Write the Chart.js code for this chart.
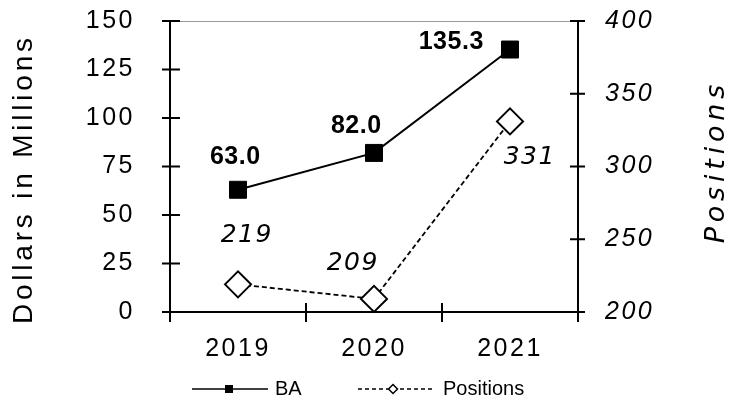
<!DOCTYPE html>
<html>
<head>
<meta charset="utf-8">
<script src="https://cdn.jsdelivr.net/npm/chart.js@4.4.0/dist/chart.umd.min.js"></script>
<style>
  html, body { margin: 0; padding: 0; background: #fff; }
  #wrap { width: 741px; height: 400px; }
</style>
</head>
<body>
<div id="wrap"><canvas id="chart"></canvas></div>
<script>
const years = ['2019', '2020', '2021'];
const baValues = [63.0, 82.0, 135.3];
const positionValues = [219, 209, 331];
const dollarTicks = [0, 25, 50, 75, 100, 125, 150];
const positionTicks = [200, 250, 300, 350, 400];

// label offsets from each point (px)
const baLabelOffsets = [[-3, -33], [-18, -27], [-59, -7]];
const posLabelOffsets = [[8, -49], [-22, -35], [19, 36]];

const ARIAL = '"Liberation Sans", Arial, sans-serif';
const DEJAVU = '"DejaVu Sans", Verdana, sans-serif';

function drawText(ctx, txt, x, y, font, spacing, align) {
  ctx.save();
  ctx.font = font;
  ctx.letterSpacing = spacing + 'px';
  ctx.fillStyle = '#000';
  ctx.textBaseline = 'middle';
  // letterSpacing adds space after last char too, compensate when centering
  let w = ctx.measureText(txt).width;
  ctx.textAlign = 'left';
  let x0 = x;
  if (align === 'center') x0 = x - (w - spacing) / 2;
  ctx.fillText(txt, x0, y);
  ctx.restore();
}

const spacingPlugin = {
  id: 'spacing',
  beforeDraw(chart) {
    chart.ctx.letterSpacing = '2.5px';
  }
};

const ticksPlugin = {
  id: 'crossTicks',
  beforeDatasetsDraw(chart) {
    const {ctx, chartArea, scales} = chart;
    ctx.save();
    ctx.letterSpacing = '0px';
    ctx.strokeStyle = '#999';
    ctx.lineWidth = 1;
    ctx.beginPath();
    ctx.moveTo(chartArea.left, chartArea.top + 0.5);
    ctx.lineTo(chartArea.right, chartArea.top + 0.5);
    ctx.stroke();
    ctx.strokeStyle = '#000';
    ctx.lineWidth = 2;
    ctx.beginPath();
    scales.y.ticks.forEach((t, i) => {
      const y = scales.y.getPixelForTick(i);
      ctx.moveTo(chartArea.left - 8, y);
      ctx.lineTo(chartArea.left + 10, y);
    });
    scales.y1.ticks.forEach((t, i) => {
      const y = scales.y1.getPixelForTick(i);
      ctx.moveTo(chartArea.right - 8, y);
      ctx.lineTo(chartArea.right + 7, y);
    });
    for (let i = 0; i <= years.length; i++) {
      const x = scales.x.getPixelForValue(i - 0.5);
      ctx.moveTo(x, chartArea.bottom - 9);
      ctx.lineTo(x, chartArea.bottom + 10);
    }
    ctx.stroke();
    ctx.restore();
  }
};

const labelsPlugin = {
  id: 'pointLabels',
  afterDatasetsDraw(chart) {
    const ctx = chart.ctx;
    chart.getDatasetMeta(0).data.forEach((pt, j) => {
      const [dx, dy] = baLabelOffsets[j];
      drawText(ctx, baValues[j].toFixed(1), pt.x + dx, pt.y + dy, 'bold 25px ' + ARIAL, 0.5, 'center');
    });
    chart.getDatasetMeta(1).data.forEach((pt, j) => {
      const [dx, dy] = posLabelOffsets[j];
      drawText(ctx, String(positionValues[j]), pt.x + dx, pt.y + dy, 'italic 25px ' + DEJAVU, 1.5, 'center');
    });
  },
  afterDraw(chart) {
    const ctx = chart.ctx;
    // axis titles
    ctx.save();
    ctx.translate(24, 181);
    ctx.rotate(-Math.PI / 2);
    drawText(ctx, 'Dollars in Millions', 0, 0, '28px ' + ARIAL, 3.8, 'center');
    ctx.restore();
    ctx.save();
    ctx.translate(717, 164);
    ctx.rotate(-Math.PI / 2);
    drawText(ctx, 'Positions', 0, 0, 'italic 27px ' + DEJAVU, 4.8, 'center');
    ctx.restore();

    // legend
    const ly = 389;
    ctx.save();
    ctx.letterSpacing = '0px';
    ctx.strokeStyle = '#000';
    ctx.lineWidth = 1.5;
    ctx.beginPath();
    ctx.moveTo(192, ly); ctx.lineTo(268, ly);
    ctx.stroke();
    ctx.fillStyle = '#000';
    ctx.fillRect(225, ly - 4, 8, 8);
    ctx.setLineDash([4, 3]);
    ctx.beginPath();
    ctx.moveTo(358, ly); ctx.lineTo(433, ly);
    ctx.stroke();
    ctx.setLineDash([]);
    ctx.fillStyle = '#fff';
    ctx.beginPath();
    ctx.moveTo(393, ly - 4.5); ctx.lineTo(397.5, ly); ctx.lineTo(393, ly + 4.5); ctx.lineTo(388.5, ly);
    ctx.closePath();
    ctx.fill();
    ctx.stroke();
    ctx.restore();
    drawText(ctx, 'BA', 275, ly, '20px ' + ARIAL, 0, 'left');
    drawText(ctx, 'Positions', 443, ly, '20px ' + ARIAL, 0, 'left');
  }
};

new Chart(document.getElementById('chart'), {
  type: 'line',
  data: {
    labels: years,
    datasets: [
      {
        label: 'BA',
        data: baValues,
        yAxisID: 'y',
        borderColor: '#000',
        borderWidth: 2,
        pointStyle: 'rect',
        pointRadius: 12,
        pointBackgroundColor: '#000',
        pointBorderColor: '#000',
        pointBorderWidth: 1,
        tension: 0,
        clip: false
      },
      {
        label: 'Positions',
        data: positionValues,
        yAxisID: 'y1',
        borderColor: '#000',
        borderWidth: 1.8,
        borderDash: [5, 3],
        pointStyle: 'rectRot',
        pointRadius: 13,
        pointBackgroundColor: '#fff',
        pointBorderColor: '#000',
        pointBorderWidth: 2,
        tension: 0,
        clip: false
      }
    ]
  },
  options: {
    responsive: true,
    maintainAspectRatio: false,
    animation: false,
    events: [],
    layout: { padding: { top: 21, left: 0, right: 0, bottom: 0 } },
    plugins: {
      legend: { display: false },
      tooltip: { enabled: false }
    },
    scales: {
      x: {
        offset: true,
        grid: { display: false, drawTicks: false, offset: true },
        border: { display: true, color: '#000', width: 2 },
        ticks: { color: '#000', padding: 22, font: { family: ARIAL, size: 25 } },
        afterFit: s => { s.height = 88; s.paddingLeft = 0; s.paddingRight = 0; }
      },
      y: {
        position: 'left',
        min: 0,
        max: 150,
        grid: { display: false, drawTicks: false },
        border: { display: true, color: '#000', width: 2 },
        ticks: { color: '#000', padding: 35, font: { family: ARIAL, size: 25 } },
        afterBuildTicks: s => { s.ticks = dollarTicks.map(v => ({ value: v })); },
        afterFit: s => { s.width = 170; s.paddingTop = 0; s.paddingBottom = 0; }
      },
      y1: {
        position: 'right',
        min: 200,
        max: 400,
        grid: { display: false, drawTicks: false },
        border: { display: true, color: '#000', width: 2 },
        ticks: { color: '#000', padding: 27, font: { family: ARIAL, size: 25, style: 'italic' } },
        afterBuildTicks: s => { s.ticks = positionTicks.map(v => ({ value: v })); },
        afterFit: s => { s.width = 163; s.paddingTop = 0; s.paddingBottom = 0; }
      }
    }
  },
  plugins: [spacingPlugin, ticksPlugin, labelsPlugin]
});
</script>
</body>
</html>
